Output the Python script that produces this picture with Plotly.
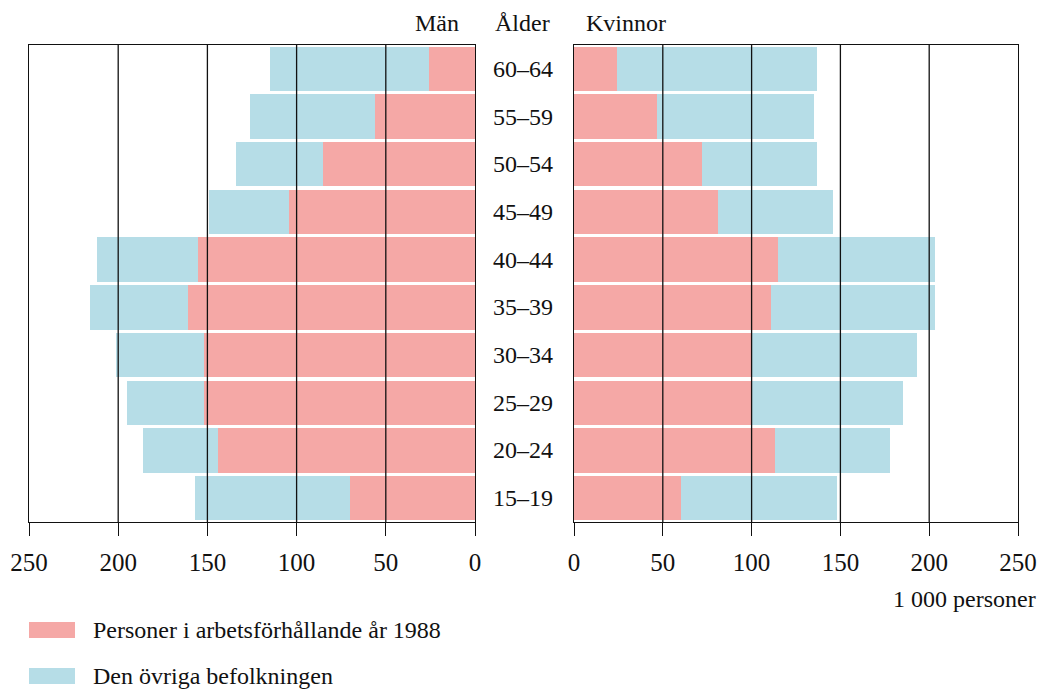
import plotly.graph_objects as go

ages = ["15–19", "20–24", "25–29", "30–34", "35–39", "40–44", "45–49", "50–54", "55–59", "60–64"]
men_employed = [70, 144, 152, 152, 161, 155, 104, 85, 56, 26]
men_other = [87, 42, 43, 49, 55, 57, 45, 49, 70, 89]
women_employed = [60, 113, 100, 100, 111, 115, 81, 72, 47, 24]
women_other = [88, 65, 85, 93, 92, 88, 65, 65, 88, 113]
tick_vals = [0, 50, 100, 150, 200, 250]
grid_vals = [50, 100, 150, 200]
legend_labels = ["Personer i arbetsförhållande år 1988", "Den övriga befolkningen"]
headers = ["Män", "Ålder", "Kvinnor"]
unit_label = "1 000 personer"

PINK = "#F5A8A6"
BLUE = "#B6DDE7"
FONT = "Liberation Serif"
OFF = 8  # default page body margin
W, H = 1048 - 2 * OFF, 692 - OFF


def px(sx):
    return (sx - OFF) / W


def py(sy):
    return 1 - (sy - OFF) / H


fig = go.Figure()
bw = 0.93
fig.add_trace(go.Bar(y=ages, x=men_employed, orientation="h", marker=dict(color=PINK, line_width=0),
                     width=bw, xaxis="x", yaxis="y", showlegend=False))
fig.add_trace(go.Bar(y=ages, x=men_other, orientation="h", marker=dict(color=BLUE, line_width=0),
                     width=bw, xaxis="x", yaxis="y", showlegend=False))
fig.add_trace(go.Bar(y=ages, x=women_employed, orientation="h", marker=dict(color=PINK, line_width=0),
                     width=bw, xaxis="x2", yaxis="y2", showlegend=False))
fig.add_trace(go.Bar(y=ages, x=women_other, orientation="h", marker=dict(color=BLUE, line_width=0),
                     width=bw, xaxis="x2", yaxis="y2", showlegend=False))

ydom = [py(522), py(45)]
axis_common = dict(range=[0, 250], tickvals=tick_vals, ticks="outside", ticklen=13, tickwidth=1.3,
                   tickcolor="#111", showgrid=False, zeroline=False, showline=True, linecolor="#111",
                   linewidth=1.4, mirror=True, tickfont=dict(family=FONT, size=25, color="#111"),
                   ticklabelstandoff=5, automargin=False, fixedrange=True)
yaxis_common = dict(categoryorder="array", categoryarray=ages, range=[-0.5, 9.5], showticklabels=False,
                    ticks="", showgrid=False, zeroline=False, showline=True, linecolor="#111",
                    linewidth=1.4, mirror=True, domain=ydom, automargin=False, fixedrange=True)

fig.update_layout(
    width=W, height=H, margin=dict(l=0, r=0, t=0, b=0, autoexpand=False),
    paper_bgcolor="white", plot_bgcolor="white", barmode="stack", bargap=0,
    xaxis=dict(axis_common, range=[250, 0], domain=[px(29), px(475)], anchor="y"),
    yaxis=dict(yaxis_common, anchor="x"),
    xaxis2=dict(axis_common, domain=[px(574), px(1018)], anchor="y2"),
    yaxis2=dict(yaxis_common, anchor="x2"),
    font=dict(family=FONT, size=24, color="#111"),
)

shapes = []
for g in grid_vals:
    for xr, yr in (("x", "y domain"), ("x2", "y2 domain")):
        shapes.append(dict(type="line", xref=xr, yref=yr, x0=g, x1=g, y0=0, y1=1,
                           line=dict(color="#111", width=1.3), layer="above"))

# legend swatches
colors = [PINK, BLUE]
leg_y = [630, 676]
for c, yc in zip(colors, leg_y):
    shapes.append(dict(type="rect", xref="paper", yref="paper", x0=px(29), x1=px(75),
                       y0=py(yc + 8), y1=py(yc - 8), fillcolor=c, line_width=0))

annotations = []
for yc, lab in zip(leg_y, legend_labels):
    annotations.append(dict(xref="paper", yref="paper", x=px(91), y=py(yc), text=lab,
                            showarrow=False, xanchor="left", yanchor="middle",
                            font=dict(family=FONT, size=24, color="#111")))

for a in ages:
    annotations.append(dict(xref="paper", yref="y", x=px(523), y=a, text=a, showarrow=False,
                            xanchor="center", yanchor="middle",
                            font=dict(family=FONT, size=24, color="#111")))

hdr_x = [461, 522, 584]
hdr_anchor = ["right", "center", "left"]
for t, hx, an in zip(headers, hdr_x, hdr_anchor):
    annotations.append(dict(xref="paper", yref="paper", x=px(hx), y=py(23), text=t, showarrow=False,
                            xanchor=an, yanchor="middle", font=dict(family=FONT, size=24, color="#111")))

annotations.append(dict(xref="paper", yref="paper", x=px(1038), y=py(599), text=unit_label,
                        showarrow=False, xanchor="right", yanchor="middle",
                        font=dict(family=FONT, size=24, color="#111")))

fig.update_layout(shapes=shapes, annotations=annotations)
fig.write_html("out.html")
